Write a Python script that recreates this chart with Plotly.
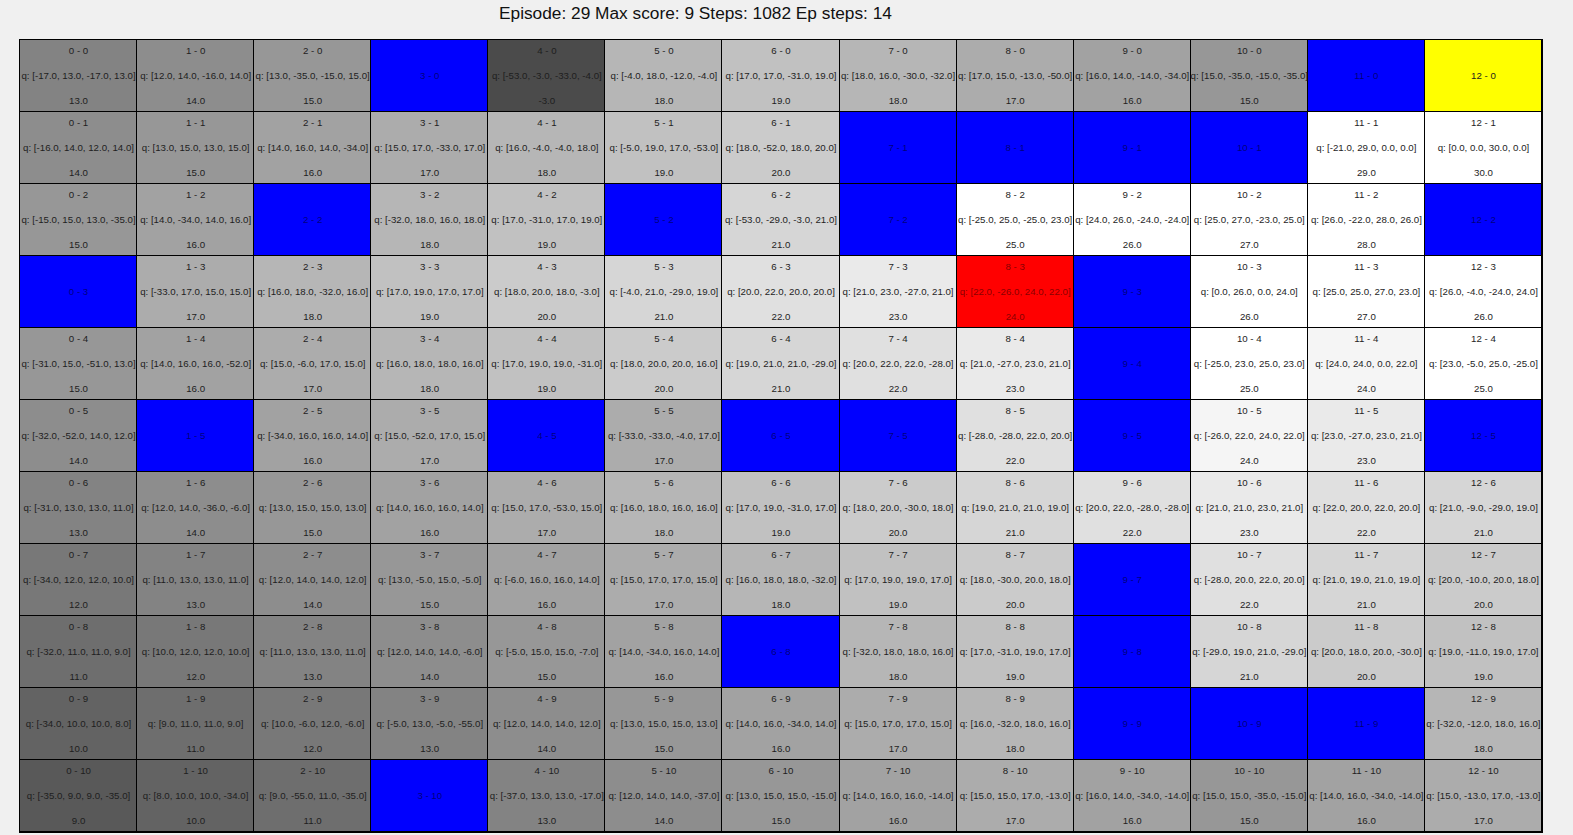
import plotly.graph_objects as go

# ---------------- data ----------------
title_text = "Episode: 29 Max score: 9 Steps: 1082 Ep steps: 14"
n_cols = 13
n_rows = 11

walls = [(3, 0), (11, 0),
         (7, 1), (8, 1), (9, 1), (10, 1),
         (2, 2), (5, 2), (7, 2), (12, 2),
         (0, 3), (9, 3),
         (9, 4),
         (1, 5), (4, 5), (6, 5), (7, 5), (9, 5), (12, 5),
         (9, 7),
         (6, 8), (9, 8),
         (9, 9), (10, 9), (11, 9),
         (3, 10)]
goal = (12, 0)
current = (8, 3)

# q-values per row (index = column); None = wall / goal
q_row0 = [[-17, 13, -17, 13], [12, 14, -16, 14], [13, -35, -15, 15], None,
          [-53, -3, -33, -4], [-4, 18, -12, -4], [17, 17, -31, 19], [18, 16, -30, -32],
          [17, 15, -13, -50], [16, 14, -14, -34], [15, -35, -15, -35], None, None]
q_row1 = [[-16, 14, 12, 14], [13, 15, 13, 15], [14, 16, 14, -34], [15, 17, -33, 17],
          [16, -4, -4, 18], [-5, 19, 17, -53], [18, -52, 18, 20], None, None, None, None,
          [-21, 29, 0, 0], [0, 0, 30, 0]]
q_row2 = [[-15, 15, 13, -35], [14, -34, 14, 16], None, [-32, 18, 16, 18],
          [17, -31, 17, 19], None, [-53, -29, -3, 21], None,
          [-25, 25, -25, 23], [24, 26, -24, -24], [25, 27, -23, 25], [26, -22, 28, 26], None]
q_row3 = [None, [-33, 17, 15, 15], [16, 18, -32, 16], [17, 19, 17, 17],
          [18, 20, 18, -3], [-4, 21, -29, 19], [20, 22, 20, 20], [21, 23, -27, 21],
          [22, -26, 24, 22], None, [0, 26, 0, 24], [25, 25, 27, 23], [26, -4, -24, 24]]
q_row4 = [[-31, 15, -51, 13], [14, 16, 16, -52], [15, -6, 17, 15], [16, 18, 18, 16],
          [17, 19, 19, -31], [18, 20, 20, 16], [19, 21, 21, -29], [20, 22, 22, -28],
          [21, -27, 23, 21], None, [-25, 23, 25, 23], [24, 24, 0, 22], [23, -5, 25, -25]]
q_row5 = [[-32, -52, 14, 12], None, [-34, 16, 16, 14], [15, -52, 17, 15],
          None, [-33, -33, -4, 17], None, None,
          [-28, -28, 22, 20], None, [-26, 22, 24, 22], [23, -27, 23, 21], None]
q_row6 = [[-31, 13, 13, 11], [12, 14, -36, -6], [13, 15, 15, 13], [14, 16, 16, 14],
          [15, 17, -53, 15], [16, 18, 16, 16], [17, 19, -31, 17], [18, 20, -30, 18],
          [19, 21, 21, 19], [20, 22, -28, -28], [21, 21, 23, 21], [22, 20, 22, 20],
          [21, -9, -29, 19]]
q_row7 = [[-34, 12, 12, 10], [11, 13, 13, 11], [12, 14, 14, 12], [13, -5, 15, -5],
          [-6, 16, 16, 14], [15, 17, 17, 15], [16, 18, 18, -32], [17, 19, 19, 17],
          [18, -30, 20, 18], None, [-28, 20, 22, 20], [21, 19, 21, 19], [20, -10, 20, 18]]
q_row8 = [[-32, 11, 11, 9], [10, 12, 12, 10], [11, 13, 13, 11], [12, 14, 14, -6],
          [-5, 15, 15, -7], [14, -34, 16, 14], None, [-32, 18, 18, 16],
          [17, -31, 19, 17], None, [-29, 19, 21, -29], [20, 18, 20, -30], [19, -11, 19, 17]]
q_row9 = [[-34, 10, 10, 8], [9, 11, 11, 9], [10, -6, 12, -6], [-5, 13, -5, -55],
          [12, 14, 14, 12], [13, 15, 15, 13], [14, 16, -34, 14], [15, 17, 17, 15],
          [16, -32, 18, 16], None, None, None, [-32, -12, 18, 16]]
q_row10 = [[-35, 9, 9, -35], [8, 10, 10, -34], [9, -55, 11, -35], None,
           [-37, 13, 13, -17], [12, 14, 14, -37], [13, 15, 15, -15], [14, 16, 16, -14],
           [15, 15, 17, -13], [16, 14, -34, -14], [15, 15, -35, -15], [14, 16, -34, -14],
           [15, -13, 17, -13]]
q_rows = [q_row0, q_row1, q_row2, q_row3, q_row4, q_row5, q_row6, q_row7, q_row8, q_row9, q_row10]

# state values per row (None = wall / goal)
v_row0 = [13, 14, 15, None, -3, 18, 19, 18, 17, 16, 15, None, None]
v_row1 = [14, 15, 16, 17, 18, 19, 20, None, None, None, None, 29, 30]
v_row2 = [15, 16, None, 18, 19, None, 21, None, 25, 26, 27, 28, None]
v_row3 = [None, 17, 18, 19, 20, 21, 22, 23, 24, None, 26, 27, 26]
v_row4 = [15, 16, 17, 18, 19, 20, 21, 22, 23, None, 25, 24, 25]
v_row5 = [14, None, 16, 17, None, 17, None, None, 22, None, 24, 23, None]
v_row6 = [13, 14, 15, 16, 17, 18, 19, 20, 21, 22, 23, 22, 21]
v_row7 = [12, 13, 14, 15, 16, 17, 18, 19, 20, None, 22, 21, 20]
v_row8 = [11, 12, 13, 14, 15, 16, None, 18, 19, None, 21, 20, 19]
v_row9 = [10, 11, 12, 13, 14, 15, 16, 17, 18, None, None, None, 18]
v_row10 = [9, 10, 11, None, 13, 14, 15, 16, 17, 16, 15, 16, 17]
v_rows = [v_row0, v_row1, v_row2, v_row3, v_row4, v_row5, v_row6, v_row7, v_row8, v_row9, v_row10]

# ---------------- build ----------------
xs = list(range(n_cols))
ys = list(range(n_rows))

z_gray = [[None] * n_cols for _ in ys]
z_wall = [[None] * n_cols for _ in ys]
z_goal = [[None] * n_cols for _ in ys]
z_cur = [[None] * n_cols for _ in ys]
for y in ys:
    for x in xs:
        if (x, y) in walls:
            z_wall[y][x] = 1
        elif (x, y) == goal:
            z_goal[y][x] = 1
        elif (x, y) == current:
            z_cur[y][x] = 1
        else:
            z_gray[y][x] = v_rows[y][x]

GAP = 1
fig = go.Figure()
# grey shading: value 9 -> rgb(89), 25 -> white, floor at 75
fig.add_trace(go.Heatmap(x=xs, y=ys, z=z_gray, zmin=7.65, zmax=25,
                         colorscale=[[0, "rgb(75,75,75)"], [1, "rgb(255,255,255)"]],
                         showscale=False, xgap=GAP, ygap=GAP, hoverinfo="skip"))
for zz, col in ((z_wall, "#0000ff"), (z_goal, "#ffff00"), (z_cur, "#ff0000")):
    fig.add_trace(go.Heatmap(x=xs, y=ys, z=zz, zmin=0, zmax=1,
                             colorscale=[[0, col], [1, col]],
                             showscale=False, xgap=GAP, ygap=GAP, hoverinfo="skip"))

def fmt(v):
    return f"{float(v):.1f}"

OFF = 25 / 72.0
NUDGE = 1 / 72.0
FONT = dict(family="Liberation Sans, Arial, sans-serif", size=9.7)

def add_text(px, py, txt, color):
    fig.add_trace(go.Scatter(x=px, y=[p + NUDGE for p in py], text=txt, mode="text",
                             textposition="middle center",
                             textfont=dict(FONT, color=color),
                             hoverinfo="skip", showlegend=False))

groups = {"normal": ([], [], []), "cur": ([], [], [])}
for y in ys:
    for x in xs:
        q = q_rows[y][x]
        if q is None:
            continue
        key = "cur" if (x, y) == current else "normal"
        px, py, tt = groups[key]
        label = f"{x} - {y}"
        qtxt = "q: [" + ", ".join(fmt(a) for a in q) + "]"
        px += [x, x, x]
        py += [y - OFF, y, y + OFF]
        tt += [label, qtxt, fmt(v_rows[y][x])]

add_text(*groups["normal"], "#1e1e1e")
add_text(*groups["cur"], "rgba(0,0,0,0.5)")
add_text([w[0] for w in walls], [w[1] for w in walls],
         [f"{w[0]} - {w[1]}" for w in walls], "rgba(0,0,0,0.55)")
add_text([goal[0]], [goal[1]], [f"{goal[0]} - {goal[1]}"], "#1e1e1e")

L, R, T, B = 20, 1542, 40, 832
W, H = 1573, 835
fig.update_layout(
    width=W, height=H,
    margin=dict(l=L, r=W - R, t=T, b=H - B, pad=0),
    paper_bgcolor="#f0f0f0", plot_bgcolor="#000000",
    showlegend=False,
    xaxis=dict(range=[-0.5, n_cols - 0.5], showgrid=False, zeroline=False,
               showticklabels=False, ticks="", showline=True, mirror=True,
               linecolor="#000000", linewidth=1, fixedrange=True),
    yaxis=dict(range=[n_rows - 0.5, -0.5], showgrid=False, zeroline=False,
               showticklabels=False, ticks="", showline=True, mirror=True,
               linecolor="#000000", linewidth=1, fixedrange=True),
    annotations=[dict(text=title_text, xref="paper", yref="paper",
                      x=(695 - L) / (R - L), y=1 + (T - 13.5) / (B - T),
                      xanchor="center", yanchor="middle", showarrow=False,
                      font=dict(family="Liberation Sans, Arial, sans-serif",
                                size=17.3, color="#111111"))],
)

fig.write_html("out.html", config={"displayModeBar": False})
